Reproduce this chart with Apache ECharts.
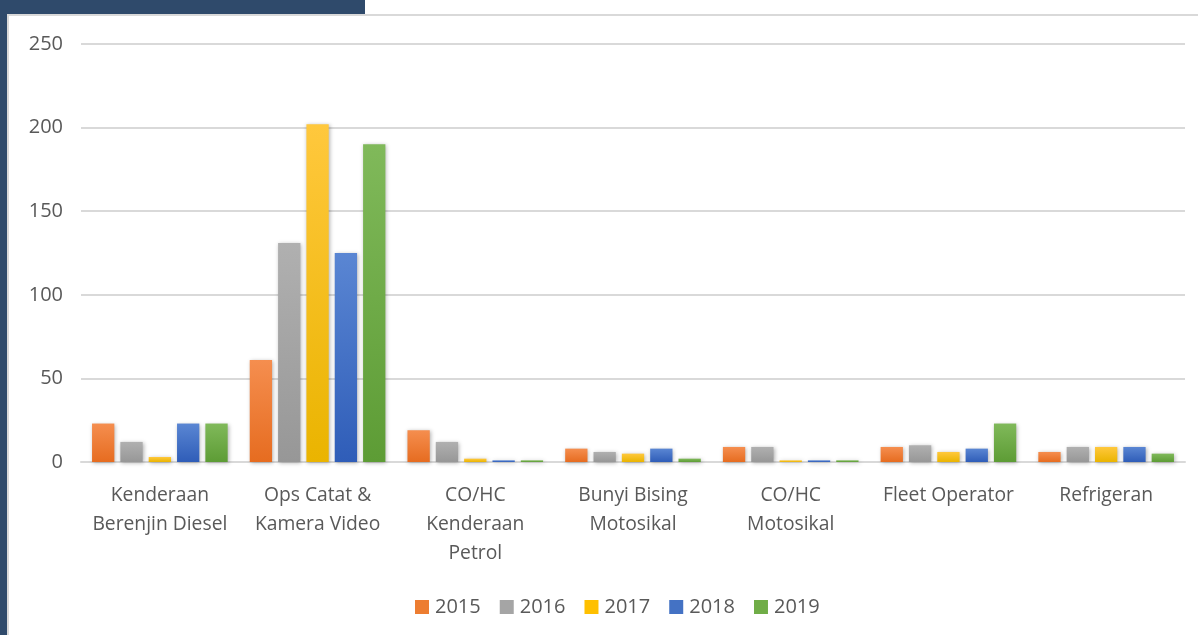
<!DOCTYPE html>
<html>
<head>
<meta charset="utf-8">
<script src="https://cdn.jsdelivr.net/npm/echarts@6/dist/echarts.min.js"></script>
<style>
html,body{margin:0;padding:0;width:1198px;height:635px;overflow:hidden;background:#ffffff;}
#blueTop{position:absolute;left:0;top:0;width:365px;height:14px;background:#2F4A6B;}
#blueLeft{position:absolute;left:0;top:0;width:7px;height:635px;background:#2F4A6B;}
#panel{position:absolute;left:7px;top:14px;width:1191px;height:621px;border-left:2px solid #D9D9D9;border-top:2px solid #D9D9D9;box-sizing:border-box;background:#fff;}
#chart{position:absolute;left:0;top:0;width:1198px;height:635px;}
</style>
</head>
<body>
<div id="blueTop"></div>
<div id="blueLeft"></div>
<div id="panel"></div>
<div id="chart"></div>
<script>
const categories = ["Kenderaan\nBerenjin Diesel", "Ops Catat &\nKamera Video", "CO/HC\nKenderaan\nPetrol", "Bunyi Bising\nMotosikal", "CO/HC\nMotosikal", "Fleet Operator", "Refrigeran"];
const seriesNames = ["2015", "2016", "2017", "2018", "2019"];
const v2015 = [23, 61, 19, 8, 9, 9, 6];
const v2016 = [12, 131, 12, 6, 9, 10, 9];
const v2017 = [3, 202, 2, 5, 1, 6, 9];
const v2018 = [23, 125, 1, 8, 1, 8, 9];
const v2019 = [23, 190, 1, 2, 1, 23, 5];
const yTicks = [0, 50, 100, 150, 200, 250];

const values = [v2015, v2016, v2017, v2018, v2019];
const colors = [
  ["#F58E4F", "#E66C20"],
  ["#B0B0B0", "#979797"],
  ["#FFC83D", "#EAB400"],
  ["#5A86D3", "#2F5DB8"],
  ["#80B95A", "#5D9C35"]
];
const legendColors = ["#ED7D31", "#A5A5A5", "#FFC000", "#4472C4", "#70AD47"];
const FONT = "'Open Sans', sans-serif";

const chart = echarts.init(document.getElementById('chart'), null, {renderer: 'canvas'});
chart.setOption({
  backgroundColor: 'transparent',
  animation: false,
  color: legendColors,
  grid: {left: 81, right: 13, top: 44, bottom: 173, containLabel: false},
  legend: {
    data: seriesNames.map((n, i) => ({name: n, itemStyle: {color: legendColors[i]}})),
    bottom: 13,
    left: 410,
    itemWidth: 14,
    itemHeight: 14,
    itemGap: 19,
    icon: 'rect',
    textStyle: {color: '#595959', fontSize: 20, fontFamily: FONT, padding: [0, 0, 0, 1]}
  },
  xAxis: {
    type: 'category',
    data: categories,
    axisLine: {show: true, lineStyle: {color: '#D9D9D9', width: 2}},
    axisTick: {show: false},
    axisLabel: {color: '#595959', fontSize: 19.3, fontFamily: FONT, lineHeight: 29, margin: 19, interval: 0}
  },
  yAxis: {
    type: 'value',
    min: 0, max: 250, interval: 50,
    axisLine: {show: false},
    axisTick: {show: false},
    splitLine: {lineStyle: {color: '#D9D9D9', width: 2}},
    axisLabel: {color: '#595959', fontSize: 20, fontFamily: FONT, margin: 18,
      formatter: v => yTicks.includes(v) ? String(v) : ''}
  },
  series: seriesNames.map((name, i) => ({
    name: name,
    type: 'bar',
    data: values[i],
    barGap: '27%',
    barCategoryGap: '14%',
    itemStyle: {
      color: new echarts.graphic.LinearGradient(0, 0, 0, 1, [
        {offset: 0, color: colors[i][0]}, {offset: 1, color: colors[i][1]}
      ]),
      shadowColor: 'rgba(0,0,0,0.3)',
      shadowBlur: 4,
      shadowOffsetX: 1,
      shadowOffsetY: 1
    }
  }))
});
</script>
</body>
</html>
